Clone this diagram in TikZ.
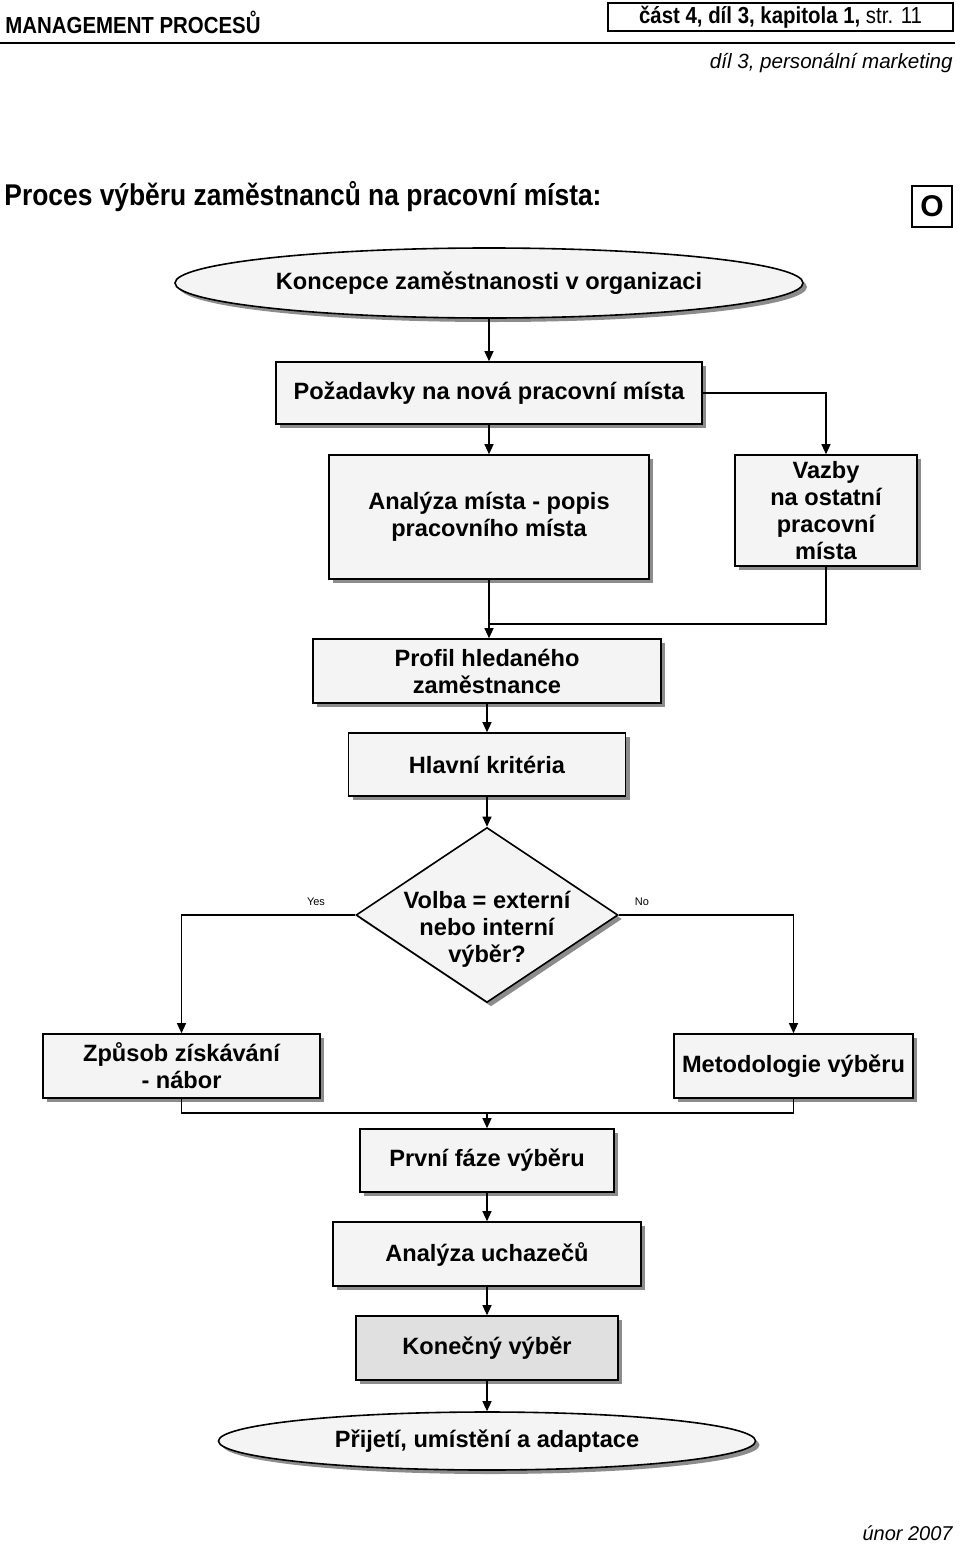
\documentclass[tikz,border=0pt]{standalone}
\usepackage{fontspec}
\setmainfont{Liberation Sans}
\newfontfamily\condfont[FakeStretch=0.88]{Liberation Sans}
\usepackage{tikz}
\usetikzlibrary{shapes.geometric,shadows,arrows.meta}
\definecolor{boxfill}{HTML}{F4F4F4}
\definecolor{darkfill}{HTML}{E0E0E0}
\definecolor{shade}{HTML}{8C8C8C}

\begin{document}
\begin{tikzpicture}[x=0.5pt,y=-0.5pt,
		box/.style={draw, line width=0.8pt, fill=boxfill, align=center, inner sep=0pt,
			font=\bfseries\fontsize{11.8}{13.5}\selectfont,
			drop shadow={shadow xshift=2pt, shadow yshift=-2pt, fill=shade, opacity=1}},
		term/.style={box, ellipse},
		decision/.style={box, diamond},
		arr/.style={-{Triangle[length=5pt,width=4.5pt]}, line width=0.6pt},
		line/.style={line width=0.6pt},
		lab/.style={font=\fontsize{5.5}{6}\selectfont}]
			\useasboundingbox (0,0) rectangle (960,1547);
			%\draw [help lines] (0,0) grid (960,1547);

			% hlavicka stranky
			\node[anchor=west, inner sep=0pt, font=\condfont\bfseries\fontsize{11.6}{12}\selectfont] (hlavicka) at (5,22) {MANAGEMENT PROCESŮ};
			\node[draw, line width=0.6pt, minimum width=172.5pt, minimum height=14pt, inner sep=0pt, font=\condfont\fontsize{11.6}{12}\selectfont] (cast) at (780.5,17) {\textbf{část 4, díl 3, kapitola 1,} str. 11};
			\draw[line width=1pt] (0,43) -- (955,43);
			\node[anchor=east, inner sep=0pt, font=\itshape\fontsize{10.3}{12}\selectfont] (dil) at (953,63) {díl 3, personální marketing};

			\node[anchor=west, inner sep=0pt, font=\condfont\bfseries\fontsize{15}{17}\selectfont] (nadpis) at (4,197) {Proces výběru zaměstnanců na pracovní místa:};
			\node[draw, line width=0.8pt, minimum width=20pt, minimum height=20.5pt, inner sep=0pt, font=\bfseries\fontsize{15}{17}\selectfont] (oznaceni) at (932,206.5) {O};

			% diagram
			\node[term, minimum width=314pt, minimum height=35pt] (konc) at (489,283) {Koncepce zaměstnanosti v organizaci};
			\node[box, minimum width=213pt, minimum height=31pt] (poz) at (489,393) {Požadavky na nová pracovní místa};
			\node[box, minimum width=160pt, minimum height=62pt] (anal) at (489,517) {Analýza místa - popis\\pracovního místa};
			\node[box, minimum width=91pt, minimum height=55.5pt] (vazby) at (826,510.5) {Vazby\\na ostatní\\pracovní\\místa};

			\node[box, minimum width=174pt, minimum height=32pt] (profil) at (487,671) {Profil hledaného\\zaměstnance};
			\node[box, minimum width=138.5pt, minimum height=31.5pt] (hlavni) at (487,764.5) {Hlavní kritéria};
			\node[decision, minimum width=131pt, minimum height=87.5pt,
				label={[align=center, yshift=-7pt, font=\bfseries\fontsize{11.8}{13.5}\selectfont]center:{Volba = externí\\nebo interní\\výběr?}}] (volba) at (487,915) {};
			\node[lab] (ano) at (316,902) {Yes};
			\node[lab] (ne) at (642,902) {No};

			\node[box, minimum width=138.5pt, minimum height=32pt] (zpusob) at (181.5,1066) {Způsob získávání\\- nábor};
			\node[box, minimum width=119.5pt, minimum height=32pt] (metod) at (793.5,1066) {Metodologie výběru};
			\node[box, minimum width=127pt, minimum height=31.5pt] (prvni) at (487,1160.5) {První fáze výběru};
			\node[box, minimum width=154pt, minimum height=32pt] (uchaz) at (487,1254) {Analýza uchazečů};
			\node[box, fill=darkfill, minimum width=131pt, minimum height=32pt] (konec) at (487,1348) {Konečný výběr};
			\node[term, minimum width=268.5pt, minimum height=29pt] (prijeti) at (487,1441) {Přijetí, umístění a adaptace};

			\node[anchor=east, inner sep=0pt, font=\itshape\fontsize{10}{12}\selectfont] (datum) at (953,1533) {únor 2007};

			% spojnice
			\coordinate (m1) at (489,624);
			\coordinate (m2) at (487,1113);
			\draw[arr] (konc.south) -- (poz.north);
			\draw[arr] (poz.east) -| (vazby.north);
			\draw[arr] (poz.south) -- (anal.north);
			\draw[line] (anal.south) -- (m1);
			\draw[line] (vazby.south) |- (m1);
			\draw[arr] (m1) -- (m1 |- profil.north);
			\draw[arr] (profil.south) -- (hlavni.north);
			\draw[arr] (hlavni.south) -- (volba.north);
			\draw[arr] (volba.west) -| (zpusob.north);
			\draw[arr] (volba.east) -| (metod.north);
			\draw[line] (zpusob.south) |- (m2);
			\draw[line] (metod.south) |- (m2);
			\draw[arr] (m2) -- (prvni.north);
			\draw[arr] (prvni.south) -- (uchaz.north);
			\draw[arr] (uchaz.south) -- (konec.north);
			\draw[arr] (konec.south) -- (prijeti.north);
		\end{tikzpicture}
\end{document}
